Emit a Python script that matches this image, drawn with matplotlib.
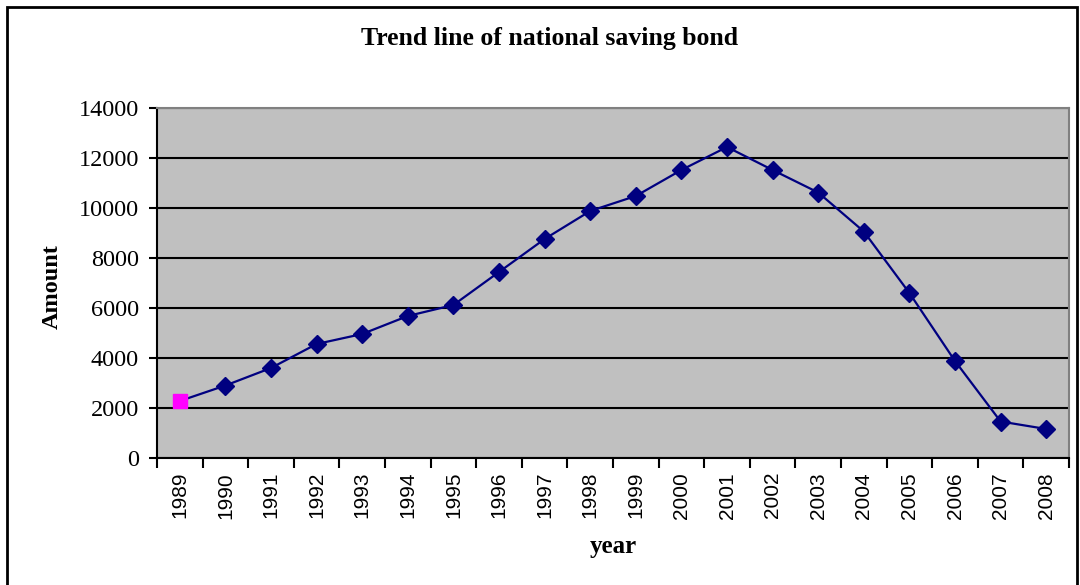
import numpy as np
import matplotlib.pyplot as plt
from matplotlib.patches import Rectangle

# ─── Data ───────────────────────────────────────────────────────────────────────
years = ["1989", "1990", "1991", "1992", "1993", "1994", "1995", "1996", "1997", "1998",
         "1999", "2000", "2001", "2002", "2003", "2004", "2005", "2006", "2007", "2008"]
amount = [2280, 2900, 3600, 4560, 4960, 5680, 6120, 7440, 8760, 9880,
          10480, 11520, 12440, 11520, 10620, 9060, 6600, 3880, 1460, 1160]

# ─── Figure ─────────────────────────────────────────────────────────────────────
fig = plt.figure(figsize=(10.8, 5.85), dpi=100)
ax = fig.add_axes([157 / 1080, 1 - 458 / 585, (1069 - 157) / 1080, (458 - 108) / 585])
ax.set_facecolor("#c0c0c0")

x = np.arange(len(years))
ax.plot(x, amount, color="#000080", linewidth=1.6, marker="D", markersize=9.5,
        markevery=list(range(1, len(years))),
        markerfacecolor="#000080", markeredgecolor="#000080", zorder=3)
# first point drawn as a magenta square
ax.plot(x[:1], amount[:1], linestyle="none", marker="s", markersize=9.5,
        color="#ff00ff", zorder=4)

ax.set_ylim(0, 14000)
ax.set_yticks(np.arange(0, 14001, 2000))
ax.set_xlim(-0.5, len(years) - 0.5)
ax.set_xticks(np.arange(-0.5, len(years)), labels=[])
ax.set_xticks(x, labels=years, minor=True)
ax.tick_params(axis="x", which="minor", length=0, pad=10, labelrotation=90,
               labelsize=15, labelfontfamily="Liberation Sans")
ax.tick_params(axis="x", which="major", length=7, width=1.5, direction="out")
ax.tick_params(axis="y", length=6, width=1.5, direction="out", pad=7,
               labelsize=17.5, labelfontfamily="Liberation Serif")

ax.grid(axis="y", color="black", linewidth=1.5)
ax.set_axisbelow(True)
for side in ["left", "bottom"]:
    ax.spines[side].set_color("black")
    ax.spines[side].set_linewidth(1.5)
for side in ["top", "right"]:
    ax.spines[side].set_color("#808080")
    ax.spines[side].set_linewidth(1.5)

fig.text(550 / 1080, 1 - 38 / 585, "Trend line of national saving bond", ha="center", va="center",
         fontsize=18.5, fontweight="bold", family="Liberation Serif")
fig.text(52 / 1080, 1 - 287 / 585, "Amount", ha="center", va="center", rotation=90,
         fontsize=17.5, fontweight="bold", family="Liberation Serif")
fig.text(613 / 1080, 1 - 546 / 585, "year", ha="center", va="center",
         fontsize=18, fontweight="bold", family="Liberation Serif")

# outer chart border (runs off the bottom of the picture)
fig.patches.append(Rectangle((7 / 1080, -0.1), 1070 / 1080, 1 - 7 / 585 + 0.1,
                             transform=fig.transFigure, fill=False,
                             edgecolor="black", linewidth=2))

fig.savefig("out.png", dpi=100)
